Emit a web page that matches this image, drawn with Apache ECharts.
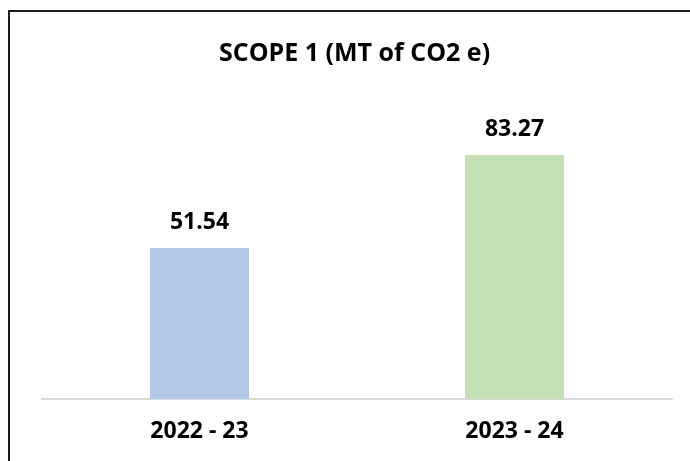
<!DOCTYPE html>
<html>
<head>
<meta charset="utf-8">
<script src="https://cdn.jsdelivr.net/npm/echarts@6/dist/echarts.min.js"></script>
<style>
  html, body { margin: 0; padding: 0; background: #fff; }
  #wrap { position: relative; width: 690px; height: 461px; overflow: hidden; }
  #chart { position: absolute; left: 0; top: 0; width: 690px; height: 461px; }
  #frame { position: absolute; left: 8px; top: 10px; width: 700px; height: 470px;
           border-left: 2px solid #1c1c1c; border-top: 2px solid #1c1c1c; pointer-events: none; }
</style>
</head>
<body>
<div id="wrap">
  <div id="chart"></div>
  <div id="frame"></div>
</div>
<script>
  const titleText = "SCOPE 1 (MT of CO2 e)";
  const years = ["2022 - 23", "2023 - 24"];
  const scope1 = [51.54, 83.27];
  const barColors = ["#b4c7e7", "#c5e0b4"];

  const chart = echarts.init(document.getElementById("chart"));

  chart.setOption({
    animation: false,
    backgroundColor: "transparent",
    title: {
      text: titleText,
      left: 214,
      top: 36,
      textStyle: { fontFamily: "Open Sans", fontWeight: "bold", fontSize: 25, color: "#000" }
    },
    grid: { left: 42, right: 18, top: 106, bottom: 62 },
    xAxis: {
      type: "category",
      data: years,
      axisTick: { show: false },
      axisLine: { lineStyle: { color: "#d9d9d9", width: 2 } },
      axisLabel: { margin: 21, fontFamily: "Open Sans", fontWeight: "bold", fontSize: 23, color: "#000" }
    },
    yAxis: {
      type: "value",
      min: 0,
      max: 100,
      show: false,
      splitLine: { show: false }
    },
    series: [{
      type: "bar",
      barWidth: 99,
      data: scope1.map((v, i) => ({ value: v, itemStyle: { color: barColors[i] } })),
      label: {
        show: true,
        position: "top",
        distance: 14,
        fontFamily: "Open Sans",
        fontWeight: "bold",
        fontSize: 23,
        color: "#000",
        formatter: (p) => p.value.toFixed(2)
      }
    }]
  });
</script>
</body>
</html>
